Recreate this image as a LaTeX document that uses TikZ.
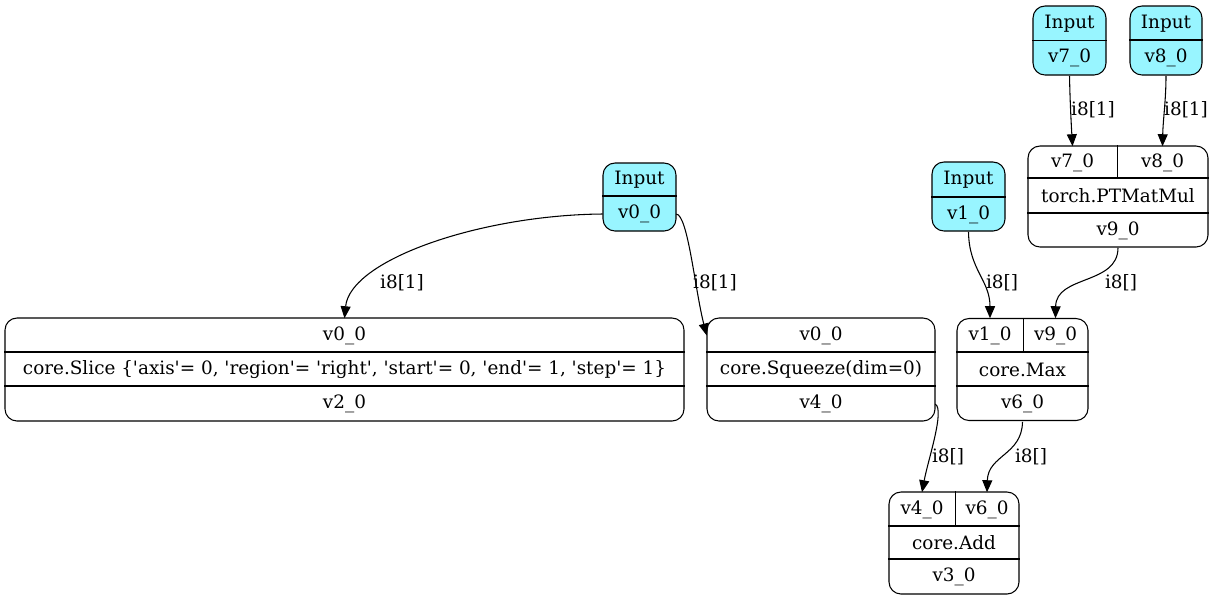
\documentclass[tikz,border=0pt]{standalone}
\usepackage{fontspec}
\setmainfont{DejaVu Serif}
\usetikzlibrary{arrows.meta}
\newcommand{\sqt}{\textquotesingle}
\definecolor{incyan}{RGB}{152,245,255}
\begin{document}
\begin{tikzpicture}[x=0.75pt,y=-0.75pt,
  every node/.style={font=\fontsize{13.8}{16}\selectfont},
  box/.style 2 args={draw, line width=0.8pt, rounded corners=9pt, minimum width=#1*0.75pt, minimum height=#2*0.75pt, inner sep=0pt},
  inbox/.style 2 args={box={#1}{#2}, fill=incyan},
  cell/.style 2 args={minimum width=#1*0.75pt, minimum height=#2*0.75pt, inner sep=0pt},
  lbl/.style={inner sep=1pt},
  conn/.style={line width=0.8pt, -{Triangle[length=9pt,width=7.5pt]}},
  divider/.style={line width=0.8pt}]
\useasboundingbox (0,0) rectangle (1214,601);

% Input v0_0
\node[inbox={73}{68}] (in0) at (639.5,197) {};
\node[cell={73}{33}] (in0t) at (639.5,180) {Input};
\node[cell={73}{35}] (in0v) at (639.5,214) {v0\_0};
\draw[divider] (in0.west |- 0,196) -- (in0.east |- 0,196);

% Input v7_0
\node[inbox={73}{69}] (in7) at (1069.5,40.5) {};
\node[cell={73}{34}] (in7t) at (1069.5,23.5) {Input};
\node[cell={73}{35}] (in7v) at (1069.5,58) {v7\_0};
\draw[divider] (in7.west |- in7v.north) -- (in7.east |- in7v.north);

% Input v8_0
\node[inbox={72}{69}] (in8) at (1166,40.5) {};
\node[cell={72}{34}] (in8t) at (1166,23.5) {Input};
\node[cell={72}{35}] (in8v) at (1166,58) {v8\_0};
\draw[divider] (in8.west |- 0,40) -- (in8.east |- 0,40);

% Input v1_0
\node[inbox={73}{69}] (in1) at (968.5,196.5) {};
\node[cell={73}{35}] (in1t) at (968.5,180) {Input};
\node[cell={73}{34}] (in1v) at (968.5,214.5) {v1\_0};
\draw[divider] (in1.west |- 0,197) -- (in1.east |- 0,197);

% torch.PTMatMul
\node[box={180}{101}] (mm) at (1118,196.5) {};
\node[cell={89}{32}] (mma) at (1072.5,162.5) {v7\_0};
\node[cell={91}{32}] (mmb) at (1162.5,162.5) {v8\_0};
\node[cell={180}{35}] (mmop) at (1118,196) {torch.PTMatMul};
\node[cell={180}{34}] (mmout) at (1118,230.5) {v9\_0};
\draw[divider] (mm.west |- 0,178) -- (mm.east |- 0,178);
\draw[divider] (mm.west |- 0,213) -- (mm.east |- 0,213);
\draw[divider] (mma.east |- mm.north) -- (mma.east |- 0,178);

% core.Slice
\node[box={679}{103}] (sl) at (344.5,369.5) {};
\node[cell={679}{34}] (slin) at (344.5,335.5) {v0\_0};
\node[cell={679}{34}] (slop) at (344.5,369.5) {core.Slice \{\sqt axis\sqt= 0, \sqt region\sqt= \sqt right\sqt, \sqt start\sqt= 0, \sqt end\sqt= 1, \sqt step\sqt= 1\}};
\node[cell={679}{35}] (slout) at (344.5,404) {v2\_0};
\draw[divider] (sl.west |- 0,352) -- (sl.east |- 0,352);
\draw[divider] (sl.west |- 0,386) -- (sl.east |- 0,386);

% core.Squeeze
\node[box={228}{103}] (sq) at (821,369.5) {};
\node[cell={228}{34}] (sqin) at (821,335.5) {v0\_0};
\node[cell={228}{34}] (sqop) at (821,369.5) {core.Squeeze(dim=0)};
\node[cell={228}{35}] (sqout) at (821,404) {v4\_0};
\draw[divider] (sq.west |- 0,352) -- (sq.east |- 0,352);
\draw[divider] (sq.west |- 0,386) -- (sq.east |- 0,386);

% core.Max
\node[box={131}{102}] (mx) at (1022.5,369.5) {};
\node[cell={66}{34}] (mxa) at (990,335.5) {v1\_0};
\node[cell={65}{34}] (mxb) at (1055.5,335.5) {v9\_0};
\node[cell={131}{34}] (mxop) at (1022.5,369.5) {core.Max};
\node[cell={131}{35}] (mxout) at (1022.5,404) {v6\_0};
\draw[divider] (mx.west |- 0,352) -- (mx.east |- 0,352);
\draw[divider] (mx.west |- 0,386) -- (mx.east |- 0,386);
\draw[divider] (mxa.east |- mx.north) -- (mxa.east |- 0,352);

% core.Add
\node[box={130}{102}] (ad) at (954,543) {};
\node[cell={66}{34}] (ada) at (922,509.5) {v4\_0};
\node[cell={64}{34}] (adb) at (987,509.5) {v6\_0};
\node[cell={130}{33}] (adop) at (954,543) {core.Add};
\node[cell={130}{35}] (adout) at (954,577) {v3\_0};
\draw[divider] (ad.west |- 0,526) -- (ad.east |- 0,526);
\draw[divider] (ad.west |- 0,559) -- (ad.east |- 0,559);
\draw[divider] (ada.east |- ad.north) -- (ada.east |- 0,526);

% connectors
\draw[conn] (in0v.west) .. controls (480,215) and (350,260) .. (slin.north);
\draw[conn] (in0v.east) .. controls (688,215) and (695,290) .. (sqin.west);
\draw[conn] (in7v.south) .. controls (1070,100) and (1071,120) .. (mma.north);
\draw[conn] (in8v.south) .. controls (1166,100) and (1163,120) .. (mmb.north);
\draw[conn] (in1v.south) .. controls (969,270) and (990,280) .. (mxa.north);
\draw[conn] (mmout.south) .. controls (1118,285) and (1056,275) .. (mxb.north);
\draw[conn] (sqout.east) .. controls (945,410) and (928,460) .. (ada.north);
\draw[conn] (mxout.south) .. controls (1022,455) and (988,455) .. (adb.north);

% labels
\node[lbl] (l1) at (402,283) {i8[1]};
\node[lbl] (l2) at (715,283) {i8[1]};
\node[lbl] (l3) at (1093,110) {i8[1]};
\node[lbl] (l4) at (1186,110) {i8[1]};
\node[lbl] (l5) at (1002,283) {i8[]};
\node[lbl] (l6) at (1121,283) {i8[]};
\node[lbl] (l7) at (948,457) {i8[]};
\node[lbl] (l8) at (1031,457) {i8[]};
\end{tikzpicture}
\end{document}
